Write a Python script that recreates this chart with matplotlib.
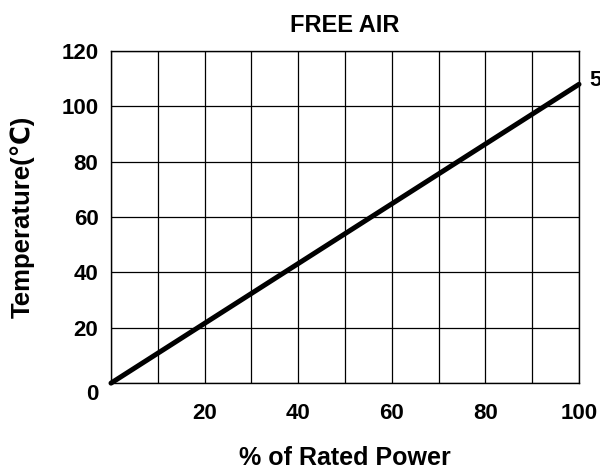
import matplotlib
matplotlib.use("Agg")
import matplotlib.pyplot as plt
import matplotlib.transforms as mtransforms
import numpy as np

plt.rcParams['font.family'] = ['Liberation Sans', 'DejaVu Sans']
plt.rcParams['font.weight'] = 'bold'

# Данные кривой
power = [0, 100]          # % of Rated Power
temp = [0, 108]           # Temperature, °C
x_ticks = [20, 40, 60, 80, 100]
y_ticks = [0, 20, 40, 60, 80, 100, 120]
curve_label = "5"

fig = plt.figure(figsize=(6.0, 4.73), dpi=100)
ax = fig.add_axes([0.185, 0.190, 0.780, 0.702])

ax.plot(power, temp, color='black', lw=3.6, solid_capstyle='round', clip_on=False, zorder=3)
ax.text(102.3, temp[-1] + 1.5, curve_label, fontsize=16, fontweight='bold', va='center', ha='left')

ax.set_xlim(0, 100)
ax.set_ylim(0, 120)
ax.set_yticks(y_ticks)
ax.set_xticks(np.arange(0, 101, 10))
ax.set_xticklabels(['' if v not in x_ticks else str(v) for v in range(0, 101, 10)])
ax.grid(True, color='black', lw=0.9)
ax.tick_params(length=0, labelsize=16)
ax.tick_params(axis='x', pad=14)
ax.tick_params(axis='y', pad=9)
for lbl in ax.get_xticklabels() + ax.get_yticklabels():
    lbl.set_fontweight('bold')
# "0" на оси y стоит чуть ниже угла
zero_lbl = ax.get_yticklabels()[0]
zero_lbl.set_transform(zero_lbl.get_transform()
                       + mtransforms.ScaledTranslation(0, -0.09, fig.dpi_scale_trans))
for s in ax.spines.values():
    s.set_linewidth(1.0)

ax.set_xlabel('% of Rated Power', fontsize=18, fontweight='bold', va='center')
ax.xaxis.set_label_coords(0.5, -0.226)
ax.set_ylabel('Temperature(℃)', fontsize=18.5, fontweight='bold', va='center')
ax.yaxis.set_label_coords(-0.19, 0.5)
ax.set_title('FREE AIR', fontsize=17, fontweight='bold', pad=14)

fig.savefig('out.png', dpi=100)
